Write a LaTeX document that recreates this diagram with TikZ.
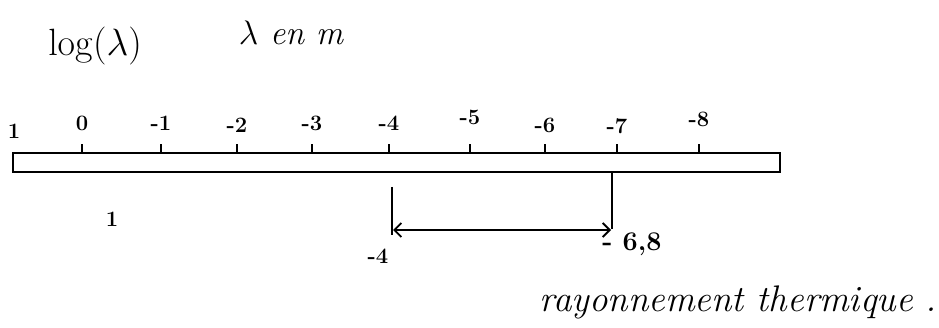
\RequirePackage{fix-cm}
\documentclass[tikz,border=0pt]{standalone}
\usetikzlibrary{arrows.meta}
\begin{document}
\begin{tikzpicture}[x=1pt,y=-1pt,
  ink/.style={line width=1.8pt,black},
  ticklbl/.style={inner sep=0pt,font=\fontsize{22}{24}\selectfont\bfseries},
  handtxt/.style={inner sep=0pt,font=\fontsize{37}{40}\selectfont\itshape},
  dimarrow/.style={ink,arrows={Straight Barb[length=7pt,width=14pt]-Straight Barb[length=7pt,width=14pt]}}]
\useasboundingbox (0,0) rectangle (939,328);
% titles
\node[inner sep=0pt,font=\fontsize{38}{40}\selectfont] (title) at (95,46) {$\log(\lambda)$};
\node[inner sep=0pt,font=\fontsize{34}{36}\selectfont\itshape,anchor=base] (unit) at (291,45) {$\lambda$ en m};
% bar
\coordinate (barNW) at (13,153);
\coordinate (barSE) at (780,172);
\draw[ink] (barNW) rectangle (barSE);
% ticks and labels
\foreach \x/\lab/\ly [count=\i] in {82/0/123,161/-1/123,237/-2/125,312/-3/123,389/-4/123,470/-5/117,545/-6/125,617/-7/126,699/-8/119}{
  \coordinate (t\i) at (\x,153);
  \coordinate (tt\i) at (\x,144);
  \draw[ink] (t\i) -- (tt\i);
  \node[ticklbl] (l\i) at (\x,\ly) {\lab};
}
\node[ticklbl] (one) at (14,131) {1};
\node[ticklbl] (onebelow) at (112,219) {1};
% dimension lines
\coordinate (vA1) at (392,187);
\coordinate (vA2) at (392,235);
\coordinate (vB1) at (612,172);
\coordinate (vB2) at (612,229);
\draw[ink] (vA1) -- (vA2);
\draw[ink] (vB1) -- (vB2);
\coordinate (aL) at (393,230);
\coordinate (aR) at (611,230);
\draw[dimarrow] (aL) -- (aR);
\node[ticklbl] (m4) at (378,256) {-4};
\node[ticklbl,font=\fontsize{27}{29}\selectfont\bfseries] (m68) at (632,244) {- 6,8};
% caption
\node[handtxt,anchor=base east] (cap) at (937,312) {rayonnement thermique .};
\end{tikzpicture}
\end{document}
